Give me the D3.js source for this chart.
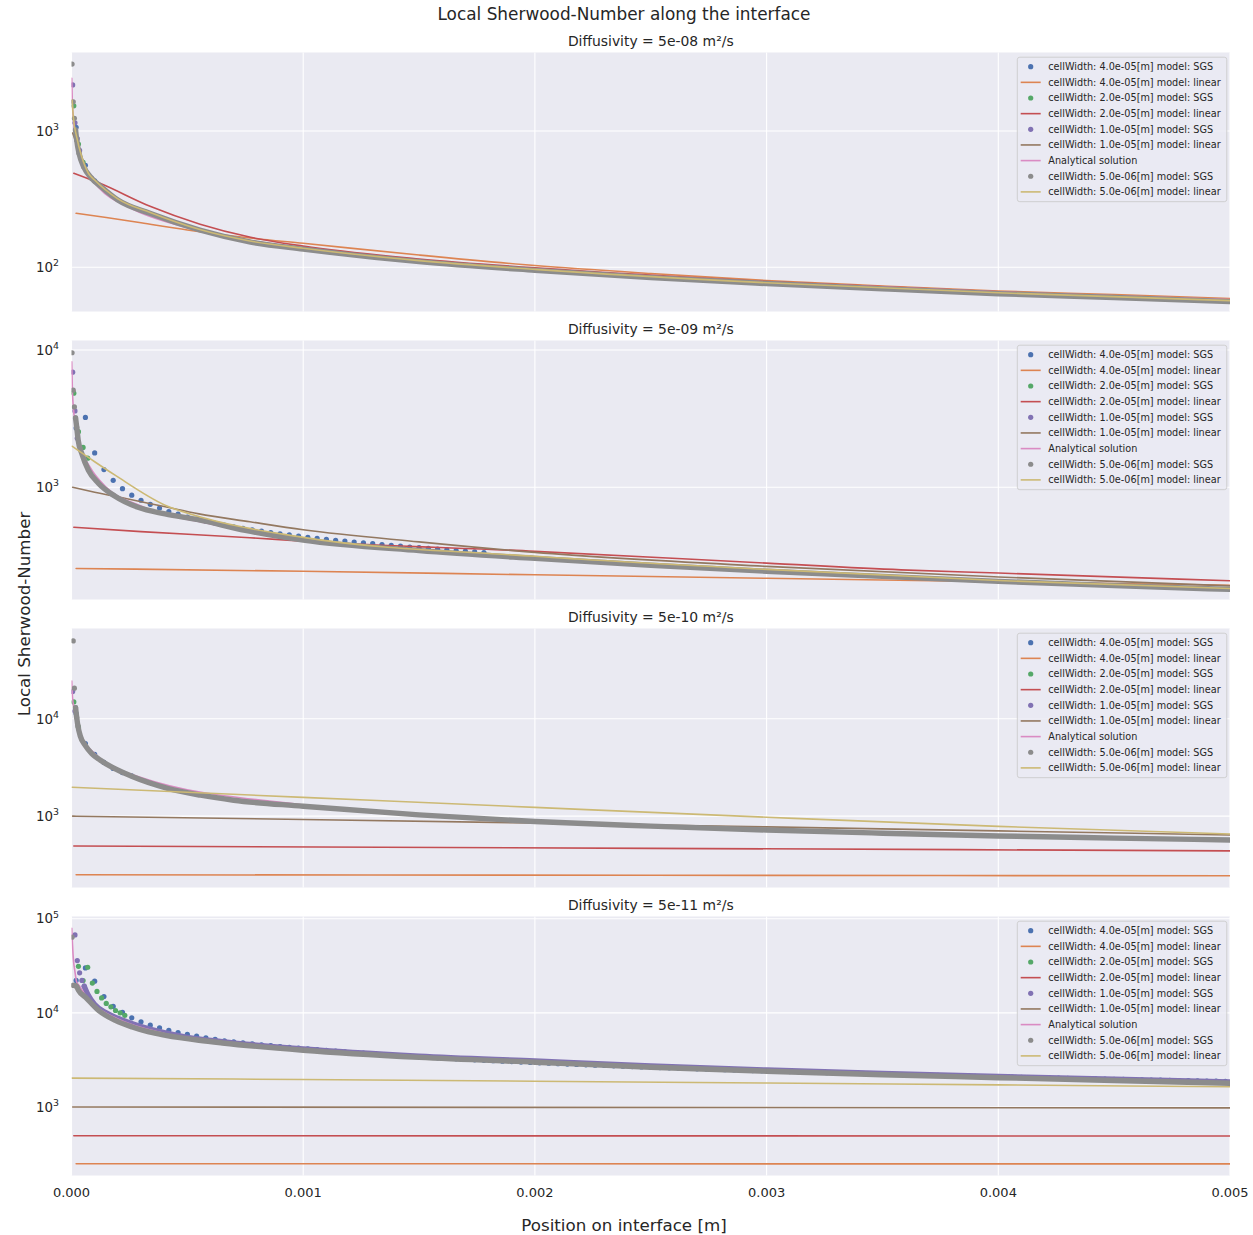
<!DOCTYPE html>
<html><head><meta charset="utf-8">
<script src="https://cdn.jsdelivr.net/npm/d3@7"></script>
<style>
body{margin:0;background:#fff;}
text{font-family:"DejaVu Sans",sans-serif;fill:#262626;}
</style>
</head><body>
<svg id="chart" width="1253" height="1235"></svg>
<script>
// ---------------- DATA ----------------
const xTickValues = [0, 0.001, 0.002, 0.003, 0.004, 0.005];
const xTickLabels = ["0.000", "0.001", "0.002", "0.003", "0.004", "0.005"];
const panelTitles = ["Diffusivity = 5e-08 m²/s", "Diffusivity = 5e-09 m²/s", "Diffusivity = 5e-10 m²/s", "Diffusivity = 5e-11 m²/s"];
const legendLabels = [
  "cellWidth: 4.0e-05[m] model: SGS", "cellWidth: 4.0e-05[m] model: linear",
  "cellWidth: 2.0e-05[m] model: SGS", "cellWidth: 2.0e-05[m] model: linear",
  "cellWidth: 1.0e-05[m] model: SGS", "cellWidth: 1.0e-05[m] model: linear",
  "Analytical solution",
  "cellWidth: 5.0e-06[m] model: SGS", "cellWidth: 5.0e-06[m] model: linear"];
const legendKinds = ["dot", "line", "dot", "line", "dot", "line", "line", "dot", "line"];
const seriesColors = ["#4C72B0", "#DD8452", "#55A868", "#C44E52", "#8172B3", "#937860", "#DA8BC3", "#8C8C8C", "#CCB974"];
const yDomains = [[47.4, 3767], [152, 11740], [185, 84500], [187.5, 105500]];
const yTickExponents = [[2, 3], [3, 4], [3, 4], [3, 4, 5]];

// Panel 1 : D = 5e-08
const p1_sgs40 = [[2e-5,1065],[6e-5,560],[1e-4,430]];
const p1_lin40 = [[2e-5,249],[1.5e-4,232],[3e-4,212],[5e-4,188],[7.7e-4,164],[1e-3,150],[1.5e-3,123],[2e-3,103],[2.5e-3,90],[3e-3,80],[3.5e-3,73],[4e-3,67],[4.5e-3,63],[5e-3,59]];
const p1_sgs20 = [[1e-5,1530],[3e-5,802],[5e-5,590]];
const p1_lin20 = [[1e-5,490],[1.23e-4,413],[3.39e-4,280],[5.55e-4,207],[7.73e-4,166],[1e-3,143],[1.5e-3,115],[2e-3,99],[3e-3,78.5],[4e-3,66],[5e-3,57.5]];
const p1_sgs10 = [[5e-6,2180],[1.5e-5,1150],[2.5e-5,880],[3.5e-5,720]];
const p1_lin10 = [[5e-6,967],[3.7e-5,686],[7e-5,500],[1.2e-4,400],[2e-4,315],[3.4e-4,250],[5.5e-4,190],[7.7e-4,157],[1e-3,138],[1.5e-3,112],[2e-3,96.5],[3e-3,77],[4e-3,65],[5e-3,57]];
const p1_analytic = [[1e-6,2440],[3.5e-6,1640],[7.8e-6,1240],[1.5e-5,950],[3e-5,700],[6e-5,520],[1.2e-4,380],[2.5e-4,275],[5e-4,195],[1e-3,138],[2e-3,97],[3e-3,78],[4e-3,66],[5e-3,58]];
const p1_sgs05 = [[2.5e-6,3100],[7.5e-6,1640],[1.25e-5,1240],[1.75e-5,1017],[2.25e-5,858],[3.25e-5,686],[5.25e-5,547],[8.75e-5,449]];
const p1_sgs05Band = [[1.75e-5,1017],[2.25e-5,858],[3.25e-5,686],[5.25e-5,547],[8.75e-5,449],[1.25e-4,394],[2e-4,312],[3.41e-4,248],[5.57e-4,187],[7.73e-4,153],[1e-3,136],[1.5e-3,110],[2e-3,95],[2.5e-3,84],[3e-3,76],[3.5e-3,69.5],[4e-3,64],[4.5e-3,60],[5e-3,56]];
const p1_lin05 = [[2.5e-6,1690],[7.8e-6,1270],[2.2e-5,908],[4.4e-5,649],[7.3e-5,490],[1e-4,437],[2e-4,318],[3.4e-4,252],[5.5e-4,190],[7.7e-4,156],[1e-3,138],[1.5e-3,112],[2e-3,96.5],[3e-3,77],[4e-3,65],[5e-3,57]];

// Panel 2 : D = 5e-09
const p2_sgs40 = [[2e-5,2700],[6e-5,3230],[1e-4,1780],[1.4e-4,1345],[1.8e-4,1124],[2.2e-4,977],[2.6e-4,875],[3e-4,804],[3.4e-4,751],[3.8e-4,706],[4.2e-4,665],[4.6e-4,636],[5e-4,607],[5.4e-4,585],[5.8e-4,565],[6.2e-4,546],[6.6e-4,530],[7e-4,515],[7.4e-4,502],[7.8e-4,490],[8.2e-4,479],[8.6e-4,468],[9e-4,458],[9.4e-4,449],[9.8e-4,440],
 [1.02e-3,432],[1.06e-3,425],[1.10e-3,418],[1.14e-3,411],[1.18e-3,405],[1.22e-3,399],[1.26e-3,393],[1.30e-3,388],[1.34e-3,382],[1.38e-3,377],
 [1.42e-3,372],[1.46e-3,367],[1.50e-3,363],[1.54e-3,358],[1.58e-3,354],[1.62e-3,350],[1.66e-3,346],[1.70e-3,342],[1.74e-3,338],[1.78e-3,334]];
const p2_lin40 = [[2e-5,256],[1e-3,244],[2e-3,230],[3e-3,217],[4e-3,205],[5e-3,193]];
const p2_sgs20 = [[1e-5,4850],[3e-5,2540],[5e-5,1950],[7e-5,1630]];
const p2_lin20 = [[1e-5,511],[3e-4,475],[7.7e-4,429],[1e-3,404],[2e-3,341],[3e-3,280],[3.58e-3,250],[4e-3,237],[5e-3,208]];
const p2_sgs10 = [[5e-6,6900],[1.5e-5,3600],[2.5e-5,2280]];
const p2_lin10 = [[5e-6,1000],[1e-4,920],[2.5e-4,817],[4e-4,723],[5.5e-4,640],[7.7e-4,560],[1e-3,490],[1.5e-3,400],[2e-3,335],[3e-3,265],[4e-3,222],[5e-3,191]];
const p2_analytic = [[1e-6,8200],[3.5e-6,5300],[1e-5,3500],[2e-5,2700],[4e-5,1950],[8e-5,1400],[1.5e-4,1000],[3e-4,730],[6e-4,540],[1e-3,415],[2e-3,300],[3e-3,244],[4e-3,206],[5e-3,181]];
const p2_sgs05 = [[2.5e-6,9560],[7.5e-6,5100],[1.25e-5,3850],[1.75e-5,3200],[2.25e-5,2740]];
const p2_sgs05Band = [[1.75e-5,3200],[2.25e-5,2740],[2.9e-5,2200],[4.4e-5,1770],[7.3e-5,1330],[1.16e-4,1070],[1.88e-4,860],[2.87e-4,714],[4.04e-4,640],[5.46e-4,580],[7.5e-4,485],[1e-3,412],[1.5e-3,345],[2e-3,303],[2.5e-3,270],[3e-3,244],[3.5e-3,224],[4e-3,206],[4.5e-3,192],[5e-3,180]];
const p2_lin05 = [[2.5e-6,1990],[1e-4,1535],[1.88e-4,1225],[4.04e-4,740],[5.77e-4,594],[1e-3,431],[2e-3,314],[3e-3,252],[4e-3,209],[5e-3,183]];

// Panel 3 : D = 5e-10
const p3_sgs40 = [[2e-5,11300],[6e-5,5560],[1e-4,4300],[1.4e-4,3560],[1.8e-4,3090],[2.2e-4,2800],[2.6e-4,2600]];
const p3_lin40 = [[2e-5,250],[2.5e-3,247],[5e-3,244]];
const p3_sgs20 = [[1e-5,14900],[3e-5,8200]];
const p3_lin20 = [[1e-5,494],[2.5e-3,467],[5e-3,440]];
const p3_sgs10 = [[5e-6,19000],[1.5e-5,12000]];
const p3_lin10 = [[5e-6,1000],[1e-3,925],[2e-3,850],[3e-3,775],[4e-3,705],[5e-3,640]];
const p3_analytic = [[1e-6,24400],[4e-6,17000],[1e-5,13000],[2e-5,10000],[4e-5,7000],[1e-4,4400],[3e-4,2500],[1e-3,1300],[2e-3,900],[3e-3,730],[4e-3,635],[5e-3,575]];
const p3_sgs05 = [[7.5e-6,63000],[1.25e-5,20600],[1.75e-5,13000],[2.25e-5,10300],[2.75e-5,8490]];
const p3_sgs05Band = [[1.75e-5,13000],[2.25e-5,10300],[2.75e-5,8490],[3.75e-5,6700],[6e-5,5300],[8.75e-5,4390],[1.25e-4,3750],[2.68e-4,2520],[4.15e-4,1930],[5.57e-4,1640],[7e-4,1455],[1e-3,1265],[1.5e-3,1030],[2e-3,880],[2.5e-3,790],[3e-3,720],[3.5e-3,668],[4e-3,626],[4.5e-3,595],[5e-3,569]];
const p3_lin05 = [[2.5e-6,1980],[1e-3,1560],[2e-3,1230],[3e-3,975],[4e-3,785],[5e-3,655]];

// Panel 4 : D = 5e-11
const p4_sgs40 = [[2e-5,22100],[6e-5,30000],[1e-4,21700],[1.4e-4,14900],[1.8e-4,11700],[2.2e-4,10100],
 [2.6e-4,8850],[3.0e-4,8050],[3.4e-4,7400],[3.8e-4,6950],[4.2e-4,6520],[4.6e-4,6180],[5.0e-4,5910],[5.4e-4,5650],[5.8e-4,5420],[6.2e-4,5230],
 [6.6e-4,5050],[7.0e-4,4920],[7.4e-4,4800],[7.8e-4,4690],[8.2e-4,4580],[8.6e-4,4480],[9.0e-4,4380],[9.4e-4,4300],[9.8e-4,4220],
 [1.02e-3,4144],[1.06e-3,4066],[1.10e-3,3991],[1.14e-3,3920],[1.18e-3,3852],[1.22e-3,3789],[1.26e-3,3729],[1.30e-3,3671],[1.34e-3,3615],[1.38e-3,3564],
 [1.42e-3,3513],[1.46e-3,3464],[1.50e-3,3418],[1.54e-3,3372],[1.58e-3,3330],[1.62e-3,3289],[1.66e-3,3249],[1.70e-3,3210],[1.74e-3,3173],[1.78e-3,3136],
 [1.82e-3,3103],[1.86e-3,3069],[1.90e-3,3036],[1.94e-3,3005],[1.98e-3,2975],[2.02e-3,2944],[2.06e-3,2916],[2.10e-3,2888],[2.14e-3,2862],[2.18e-3,2835],
 [2.22e-3,2809],[2.26e-3,2784],[2.30e-3,2760],[2.34e-3,2737],[2.38e-3,2713],[2.42e-3,2691],[2.46e-3,2669],[2.50e-3,2647],[2.54e-3,2627],[2.58e-3,2606],
 [2.62e-3,2585],[2.66e-3,2566],[2.70e-3,2548],[2.74e-3,2529],[2.78e-3,2510],[2.82e-3,2493],[2.86e-3,2475],[2.90e-3,2458],[2.94e-3,2441],[2.98e-3,2424],
 [3.02e-3,2409],[3.06e-3,2392],[3.10e-3,2378],[3.14e-3,2362],[3.18e-3,2347],[3.22e-3,2333],[3.26e-3,2318],[3.30e-3,2304],[3.34e-3,2290],[3.38e-3,2276],
 [3.42e-3,2264],[3.46e-3,2250],[3.50e-3,2237],[3.54e-3,2224],[3.58e-3,2212],[3.62e-3,2200],[3.66e-3,2188],[3.70e-3,2175],[3.74e-3,2164],[3.78e-3,2153],
 [3.82e-3,2142],[3.86e-3,2131],[3.90e-3,2119],[3.94e-3,2108],[3.98e-3,2098],[4.02e-3,2088],[4.06e-3,2077],[4.10e-3,2068],[4.14e-3,2056],[4.18e-3,2047],
 [4.22e-3,2037],[4.26e-3,2028],[4.30e-3,2019],[4.34e-3,2009],[4.38e-3,2000],[4.42e-3,1991],[4.46e-3,1981],[4.50e-3,1973],[4.54e-3,1964],[4.58e-3,1956],
 [4.62e-3,1948],[4.66e-3,1938],[4.70e-3,1931],[4.74e-3,1922],[4.78e-3,1914],[4.82e-3,1907],[4.86e-3,1899],[4.90e-3,1891],[4.94e-3,1883],[4.98e-3,1875]];
const p4_lin40 = [[2e-5,250],[5e-3,249]];
const p4_sgs20 = [[3e-5,31200],[5e-5,22000],[7e-5,30500],[9e-5,20700],[1.1e-4,16900],[1.3e-4,14400],[1.5e-4,12600],[1.7e-4,11600],[1.9e-4,10600],[2.1e-4,10000],[2.3e-4,9410]];
const p4_lin20 = [[1e-5,495],[5e-3,493]];
const p4_sgs10 = [[1.5e-5,67300],[2.5e-5,35900],[3.5e-5,26600],[4.5e-5,22100],[5.5e-5,19200]];
const p4_sgs10Band = [[5.5e-5,19200],[7e-5,15800],[1e-4,12300],[1.5e-4,10000],[2e-4,8750],[3e-4,7150],[4e-4,6150],[5e-4,5500],[6.5e-4,4950],[1e-3,4130],[1.5e-3,3470],[2e-3,3080],[2.5e-3,2730],[3e-3,2470],[3.5e-3,2270],[4e-3,2110],[4.5e-3,1970],[5e-3,1845]];
const p4_lin10 = [[5e-6,1000],[5e-3,980]];
const p4_analytic = [[1e-6,79000],[7.8e-6,37900],[1.5e-5,27300],[2.2e-5,21400],[3.7e-5,18900],[6e-5,15300],[1e-4,12000],[2e-4,8600],[4e-4,6050],[7e-4,4650],[1e-3,4000],[2e-3,2950],[3e-3,2400],[4e-3,2050],[5e-3,1800]];
const p4_sgs05 = [[2.5e-6,63700],[7.5e-6,19600],[1.25e-5,19600],[1.75e-5,19500],[2.25e-5,19000]];
const p4_sgs05Band = [[7.5e-6,19600],[1.75e-5,19500],[2.25e-5,19000],[3e-5,17400],[6e-5,14700],[1.17e-4,10600],[1.89e-4,8330],[2.62e-4,7080],[3.34e-4,6270],[4.06e-4,5780],[5.5e-4,5120],[6.51e-4,4790],[1e-3,4010],[1.5e-3,3370],[2e-3,2990],[2.5e-3,2650],[3e-3,2400],[3.5e-3,2200],[4e-3,2050],[4.5e-3,1910],[5e-3,1790]];
const p4_lin05 = [[2.5e-6,2030],[1e-3,1960],[2e-3,1880],[3e-3,1800],[4e-3,1720],[5e-3,1640]];

const panelData = [
  {sgs40:p1_sgs40, lin40:p1_lin40, sgs20:p1_sgs20, lin20:p1_lin20, sgs10:p1_sgs10, sgs10Band:null, lin10:p1_lin10, analytic:p1_analytic, sgs05:p1_sgs05, sgs05Band:p1_sgs05Band, lin05:p1_lin05},
  {sgs40:p2_sgs40, lin40:p2_lin40, sgs20:p2_sgs20, lin20:p2_lin20, sgs10:p2_sgs10, sgs10Band:null, lin10:p2_lin10, analytic:p2_analytic, sgs05:p2_sgs05, sgs05Band:p2_sgs05Band, lin05:p2_lin05},
  {sgs40:p3_sgs40, lin40:p3_lin40, sgs20:p3_sgs20, lin20:p3_lin20, sgs10:p3_sgs10, sgs10Band:null, lin10:p3_lin10, analytic:p3_analytic, sgs05:p3_sgs05, sgs05Band:p3_sgs05Band, lin05:p3_lin05},
  {sgs40:p4_sgs40, lin40:p4_lin40, sgs20:p4_sgs20, lin20:p4_lin20, sgs10:p4_sgs10, sgs10Band:p4_sgs10Band, lin10:p4_lin10, analytic:p4_analytic, sgs05:p4_sgs05, sgs05Band:p4_sgs05Band, lin05:p4_lin05}
];

// ---------------- LAYOUT ----------------
const plotLeft = 71.5, plotRight = 1230;
const panelTops = [52.5, 340.5, 628.5, 916.5];
const panelH = 259;
const bg = "#EAEAF2";
const lineW = 1.6, dotR = 2.6, bandW = 5.4;

const svg = d3.select("#chart");
svg.append("rect").attr("width",1253).attr("height",1235).attr("fill","#fff");

const x = d3.scaleLinear().domain([0, 0.005]).range([plotLeft, plotRight]);

// suptitle & axis labels
svg.append("text").attr("x", 624).attr("y", 20).attr("text-anchor","middle")
  .style("font-size","16.9px").text("Local Sherwood-Number along the interface");
svg.append("text").attr("x", 624).attr("y", 1230.5).attr("text-anchor","middle")
  .style("font-size","16.7px").text("Position on interface [m]");
svg.append("text").attr("transform","translate(30,614) rotate(-90)").attr("text-anchor","middle")
  .style("font-size","16.7px").text("Local Sherwood-Number");

panelData.forEach((pd, i) => {
  const top = panelTops[i];
  const y = d3.scaleLog().domain(yDomains[i]).range([top + panelH, top]);
  const g = svg.append("g");

  g.append("rect").attr("x", plotLeft).attr("y", top).attr("width", plotRight - plotLeft)
    .attr("height", panelH).attr("fill", bg);

  const clipId = "clip" + i;
  svg.append("clipPath").attr("id", clipId).append("rect")
    .attr("x", plotLeft).attr("y", top).attr("width", plotRight - plotLeft).attr("height", panelH);

  // grid
  const yTicks = yTickExponents[i].map(e => Math.pow(10, e));
  g.selectAll(".gy").data(yTicks).enter().append("line")
    .attr("x1", plotLeft).attr("x2", plotRight)
    .attr("y1", d => y(d)).attr("y2", d => y(d))
    .attr("stroke", "#fff").attr("stroke-width", 1.1);
  g.selectAll(".gx").data(xTickValues).enter().append("line")
    .attr("x1", d => x(d)).attr("x2", d => x(d))
    .attr("y1", top).attr("y2", top + panelH)
    .attr("stroke", "#fff").attr("stroke-width", 1.1);

  // y tick labels with superscripts
  yTickExponents[i].forEach(e => {
    const t = g.append("text").attr("x", 59).attr("y", y(Math.pow(10, e)) + 4.8)
      .attr("text-anchor", "end").style("font-size", "13.4px");
    t.append("tspan").text("10");
    t.append("tspan").attr("dy", -5.8).style("font-size", "9.4px").text(String(e));
  });

  // title
  g.append("text").attr("x", (plotLeft + plotRight) / 2).attr("y", top - 7)
    .attr("text-anchor", "middle").style("font-size", "13.9px").text(panelTitles[i]);

  // marks
  const m = g.append("g").attr("clip-path", `url(#${clipId})`);
  const lineGen = d3.line().x(d => x(d[0])).y(d => y(d[1])).curve(d3.curveMonotoneX);
  const drawLine = (data, color, w) => {
    if (!data) return;
    m.append("path").datum(data).attr("d", lineGen).attr("fill", "none")
      .attr("stroke", color).attr("stroke-width", w)
      .attr("stroke-linecap", "round").attr("stroke-linejoin", "round");
  };
  const drawDots = (data, color) => {
    if (!data) return;
    m.append("g").selectAll("circle").data(data).enter().append("circle")
      .attr("cx", d => x(d[0])).attr("cy", d => y(d[1])).attr("r", dotR).attr("fill", color);
  };

  drawDots(pd.sgs40, seriesColors[0]);
  drawLine(pd.lin40, seriesColors[1], lineW);
  drawDots(pd.sgs20, seriesColors[2]);
  drawLine(pd.lin20, seriesColors[3], lineW);
  drawLine(pd.sgs10Band, seriesColors[4], bandW);
  drawDots(pd.sgs10, seriesColors[4]);
  drawLine(pd.lin10, seriesColors[5], lineW);
  drawLine(pd.analytic, seriesColors[6], lineW);
  drawLine(pd.sgs05Band, seriesColors[7], bandW);
  drawDots(pd.sgs05, seriesColors[7]);
  drawLine(pd.lin05, seriesColors[8], lineW);

  // legend
  const lx = 1017.3, ly = top + 4.7, lw = 209.5, lh = 144.5;
  const lg = g.append("g");
  lg.append("rect").attr("x", lx).attr("y", ly).attr("width", lw).attr("height", lh)
    .attr("rx", 2.5).attr("fill", bg).attr("fill-opacity", 0.8)
    .attr("stroke", "#cccccc").attr("stroke-width", 0.9);
  legendLabels.forEach((lab, k) => {
    const cy = top + 14.2 + k * 15.65;
    if (legendKinds[k] === "dot") {
      lg.append("circle").attr("cx", 1030.7).attr("cy", cy).attr("r", dotR).attr("fill", seriesColors[k]);
    } else {
      lg.append("line").attr("x1", 1020.7).attr("x2", 1040.7).attr("y1", cy).attr("y2", cy)
        .attr("stroke", seriesColors[k]).attr("stroke-width", lineW);
    }
    lg.append("text").attr("x", 1048.3).attr("y", cy + 3.4).style("font-size", "9.7px").text(lab);
  });

  // x tick labels on bottom panel
  if (i === panelData.length - 1) {
    g.selectAll(".xt").data(xTickValues).enter().append("text")
      .attr("x", d => x(d)).attr("y", top + panelH + 21.5)
      .attr("text-anchor", "middle").style("font-size", "13px")
      .text((d, k) => xTickLabels[k]);
  }
});
</script>
</body></html>
